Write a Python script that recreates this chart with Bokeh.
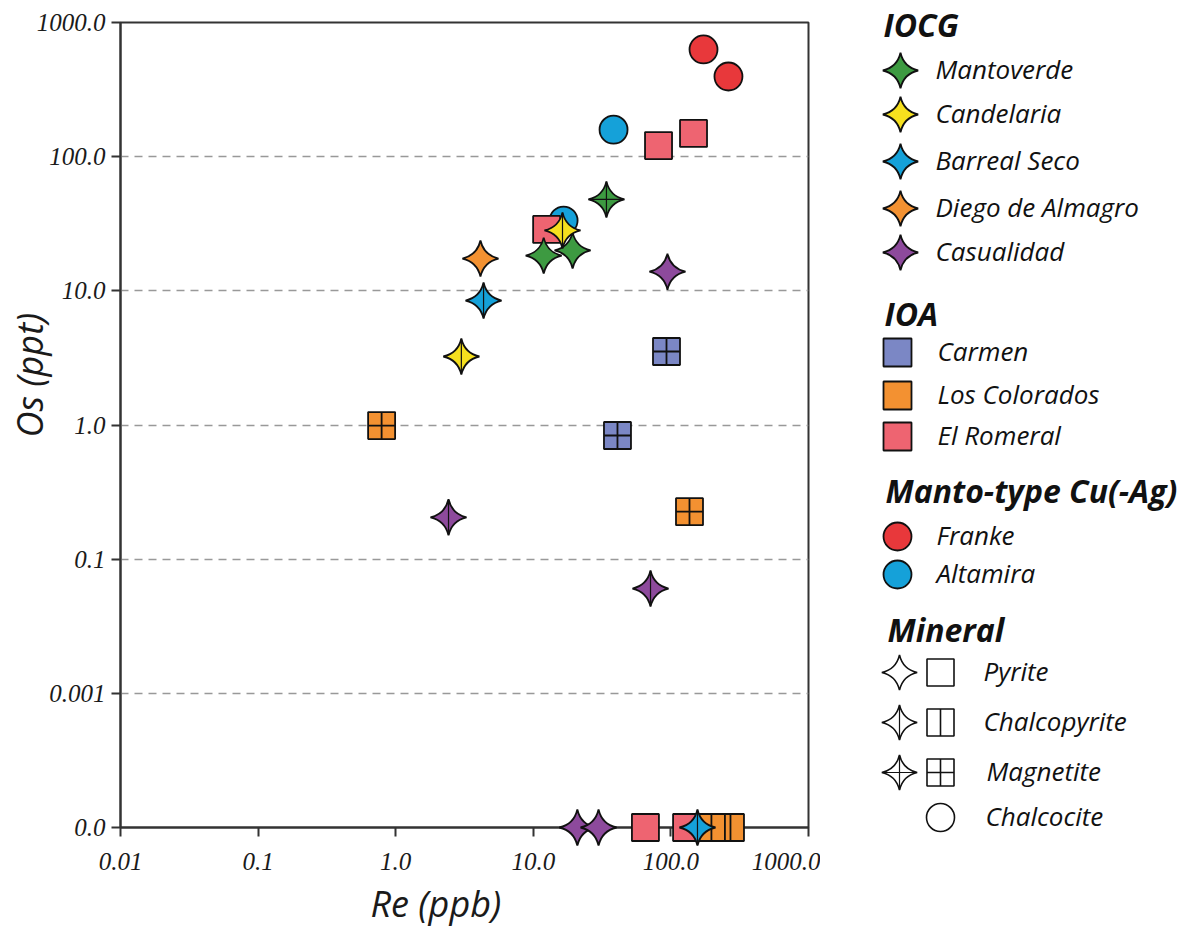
import math
from bokeh.plotting import figure
from bokeh.layouts import row
from bokeh.models import FixedTicker, Range1d, Title
from bokeh.core.properties import value
from bokeh.embed import file_html
from bokeh.resources import INLINE

# ---------------- axis ticks ----------------
x_ticks = [0.01, 0.1, 1, 10, 100, 1000]
x_tick_labels = ["0.01", "0.1", "1.0", "10.0", "100.0", "1000.0"]
y_ticks = [0.001, 0.01, 0.1, 1, 10, 100, 1000]
y_tick_labels = ["0.0", "0.001", "0.1", "1.0", "10.0", "100.0", "1000.0"]
ZERO_FLOOR = 0.001  # Os = 0.0 samples sit on the "0.0" line

# ---------------- data: Re (ppb), Os (ppt), mineral ----------------
# IOCG deposits (stars)
mantoverde_re = [11.9, 19.3, 34.0]
mantoverde_os = [18.3, 20.0, 48.0]
mantoverde_min = ["Pyrite", "Pyrite", "Magnetite"]

candelaria_re = [16.3, 3.0]
candelaria_os = [28.2, 3.24]
candelaria_min = ["Chalcopyrite", "Chalcopyrite"]

barreal_re = [4.35, 156.0]
barreal_os = [8.47, 0.0]
barreal_min = ["Chalcopyrite", "Chalcopyrite"]

diego_re = [4.13]
diego_os = [17.4]
diego_min = ["Pyrite"]

casualidad_re = [94.4, 2.42, 71.1, 20.9, 29.8]
casualidad_os = [13.9, 0.205, 0.0604, 0.0, 0.0]
casualidad_min = ["Pyrite", "Chalcopyrite", "Chalcopyrite", "Pyrite", "Pyrite"]

# IOA deposits (squares)
carmen_re = [92.9, 40.9]
carmen_os = [3.53, 0.835]
carmen_min = ["Magnetite", "Magnetite"]

romeral_re = [81.3, 146.0, 12.5, 65.3, 130.0]
romeral_os = [121.0, 149.0, 28.7, 0.0, 0.0]
romeral_min = ["Pyrite", "Pyrite", "Pyrite", "Pyrite", "Pyrite"]

colorados_re = [0.79, 136.5, 271.0, 197.0]
colorados_os = [0.99, 0.226, 0.0, 0.0]
colorados_min = ["Magnetite", "Magnetite", "Chalcopyrite", "Chalcopyrite"]

# Manto-type Cu(-Ag) deposits (circles, chalcocite)
franke_re = [172.6, 262.0]
franke_os = [630.0, 396.0]
altamira_re = [38.3, 16.6]
altamira_os = [159.0, 33.4]

# ---------------- legend groups ----------------
iocg_names = ["Mantoverde", "Candelaria", "Barreal Seco", "Diego de Almagro", "Casualidad"]
iocg_colors = ["#3d9a41", "#f6e01e", "#15a1d9", "#f39131", "#8d4a9c"]
ioa_names = ["Carmen", "Los Colorados", "El Romeral"]
ioa_colors = ["#7b87c5", "#f39131", "#ee6471"]
manto_names = ["Franke", "Altamira"]
manto_colors = ["#e8383b", "#15a1d9"]
mineral_names = ["Pyrite", "Chalcopyrite", "Magnetite", "Chalcocite"]

STAR = 25.5
SQ = 27
CIRC = 28
OUT = "#111111"
LVL = "overlay"


def ypos(vals):
    return [v if v > 0 else ZERO_FLOOR for v in vals]


def draw_stars(fig, xs, ys, mins, color, size=STAR):
    fig.scatter(xs, ypos(ys), marker="square_pin", angle=math.pi / 4, size=size,
                fill_color=color, line_color=OUT, line_width=1.8, level=LVL)
    cx = [x for x, m in zip(xs, mins) if m == "Chalcopyrite"]
    cy = [y for y, m in zip(ypos(ys), mins) if m == "Chalcopyrite"]
    if cx:
        fig.scatter(cx, cy, marker="dash", angle=math.pi / 2, size=size * 1.38,
                    line_color=OUT, line_width=1.2, level=LVL)
    mx = [x for x, m in zip(xs, mins) if m == "Magnetite"]
    my = [y for y, m in zip(ypos(ys), mins) if m == "Magnetite"]
    if mx:
        fig.scatter(mx, my, marker="cross", size=size * 1.38, line_color=OUT,
                    line_width=1.2, level=LVL)


def draw_squares(fig, xs, ys, mins, color, size=SQ):
    for x, y, m in zip(xs, ypos(ys), mins):
        mk = "square_cross" if m == "Magnetite" else "square"
        fig.scatter([x], [y], marker=mk, size=size, fill_color=color,
                    line_color=OUT, line_width=1.8, level=LVL)
        if m == "Chalcopyrite":
            fig.scatter([x], [y], marker="dash", angle=math.pi / 2, size=size,
                        line_color=OUT, line_width=1.8, level=LVL)


def draw_circles(fig, xs, ys, color, size=CIRC):
    fig.scatter(xs, ypos(ys), marker="circle", size=size, fill_color=color,
                line_color=OUT, line_width=1.8, level=LVL)


LAB_FONT = "Open Sans"

# ---------------- main plot ----------------
p = figure(frame_width=688, frame_height=805,
           x_axis_type="log", y_axis_type="log",
           x_range=Range1d(0.01, 1000), y_range=Range1d(0.001, 1000),
           min_border_left=120, min_border_top=22, min_border_right=12, min_border_bottom=105,
           output_backend="svg", toolbar_location=None,
           background_fill_color="white", border_fill_color="white")
p.outline_line_color = "#333333"
p.outline_line_width = 2

for ax, ticks, labels in ((p.xaxis[0], x_ticks, x_tick_labels), (p.yaxis[0], y_ticks, y_tick_labels)):
    ax.ticker = FixedTicker(ticks=ticks, minor_ticks=[])
    ax.major_label_overrides = {t: l for t, l in zip(ticks, labels)}
    ax.axis_line_color = "#333333"
    ax.axis_line_width = 2
    ax.major_tick_line_color = "#333333"
    ax.major_tick_line_width = 2
    ax.major_tick_out = 9
    ax.major_tick_in = 0
    ax.minor_tick_line_color = None
    ax.major_label_text_font = "Liberation Serif"
    ax.major_label_text_font_style = "italic"
    ax.major_label_text_font_size = "25px"
    ax.major_label_text_color = "#1a1a1a"
p.xaxis.major_label_standoff = 16
p.yaxis.major_label_standoff = 6

p.xgrid.grid_line_color = None
p.ygrid.grid_line_color = "#999999"
p.ygrid.grid_line_dash = "8 6"
p.ygrid.grid_line_width = 1.5

# axis titles
p.add_layout(Title(text="Re (ppb)", align="left", offset=250, standoff=9,
                   text_font=LAB_FONT, text_font_style="italic", text_font_size="36px",
                   text_color="#1a1a1a"), "below")
p.add_layout(Title(text="Os (ppt)", align="left", offset=390, standoff=-42,
                   vertical_align="middle",
                   text_font=LAB_FONT, text_font_style="italic", text_font_size="36px",
                   text_color="#1a1a1a"), "left")

# circles (Manto-type)
draw_circles(p, franke_re, franke_os, manto_colors[0])
draw_circles(p, altamira_re, altamira_os, manto_colors[1])
# squares (IOA)
draw_squares(p, carmen_re, carmen_os, carmen_min, ioa_colors[0])
draw_squares(p, romeral_re, romeral_os, romeral_min, ioa_colors[2])
draw_squares(p, colorados_re, colorados_os, colorados_min, ioa_colors[1])
# stars (IOCG)
draw_stars(p, mantoverde_re, mantoverde_os, mantoverde_min, iocg_colors[0])
draw_stars(p, candelaria_re, candelaria_os, candelaria_min, iocg_colors[1])
draw_stars(p, barreal_re, barreal_os, barreal_min, iocg_colors[2])
draw_stars(p, diego_re, diego_os, diego_min, iocg_colors[3])
draw_stars(p, casualidad_re, casualidad_os, casualidad_min, iocg_colors[4])

# ---------------- legend panel (coordinates = page pixels) ----------------
LX0, LX1, LH = 820, 1185, 932
leg = figure(width=LX1 - LX0, height=LH, x_range=Range1d(LX0, LX1), y_range=Range1d(LH, 0),
             x_axis_type=None, y_axis_type=None, min_border=0,
             output_backend="svg", toolbar_location=None,
             background_fill_color="white", border_fill_color="white")
leg.grid.visible = False
leg.outline_line_color = None
if "frame_align" in leg.properties():
    leg.frame_align = False
    p.frame_align = False

head_txt = ["IOCG", "IOA", "Manto-type Cu(-Ag)", "Mineral"]
head_x = [883, 884, 885, 887]
head_y = [24, 313, 490, 629]
leg.text(x=head_x, y=head_y, text=head_txt,
         text_font=value(LAB_FONT), text_font_style="bold italic", text_font_size="32px",
         text_baseline="middle", text_align="left", text_color="#111111")

item_font = dict(text_font=value(LAB_FONT), text_font_style="italic", text_font_size="26px",
                 text_baseline="middle", text_align="left", text_color="#111111")

iocg_y = [70, 114, 161, 208, 252]
leg.scatter([900] * 5, iocg_y, marker="square_pin", angle=math.pi / 4, size=25,
            fill_color=iocg_colors, line_color=OUT, line_width=1.8)
leg.text(x=[935] * 5, y=[v - 2 for v in iocg_y], text=iocg_names, **item_font)

ioa_y = [352, 395, 436]
leg.scatter([897] * 3, ioa_y, marker="square", size=28, fill_color=ioa_colors,
            line_color=OUT, line_width=1.8)
leg.text(x=[937] * 3, y=[v - 2 for v in ioa_y], text=ioa_names, **item_font)

manto_y = [536, 574]
leg.scatter([897] * 2, manto_y, marker="circle", size=28, fill_color=manto_colors,
            line_color=OUT, line_width=1.8)
leg.text(x=[936] * 2, y=[v - 2 for v in manto_y], text=manto_names, **item_font)

min_y = [672, 722, 772, 817]
leg.scatter([899] * 3, min_y[:3], marker="square_pin", angle=math.pi / 4, size=25,
            fill_color="white", line_color=OUT, line_width=1.6)
leg.scatter([899], [min_y[1]], marker="dash", angle=math.pi / 2, size=34, line_color=OUT, line_width=1.2)
leg.scatter([899], [min_y[2]], marker="cross", size=34, line_color=OUT, line_width=1.2)
leg.scatter([940] * 2, min_y[:2], marker="square", size=27, fill_color="white",
            line_color=OUT, line_width=1.6)
leg.scatter([940], [min_y[1]], marker="dash", angle=math.pi / 2, size=27, line_color=OUT, line_width=1.6)
leg.scatter([940], [min_y[2]], marker="square_cross", size=27, fill_color="white",
            line_color=OUT, line_width=1.6)
leg.scatter([940], [min_y[3]], marker="circle", size=28, fill_color="white",
            line_color=OUT, line_width=1.6)
leg.text(x=[983, 983, 986, 985], y=[v - 2 for v in min_y], text=mineral_names, **item_font)

layout = row(p, leg, spacing=0)
open("out.html", "w").write(file_html(layout, INLINE))
